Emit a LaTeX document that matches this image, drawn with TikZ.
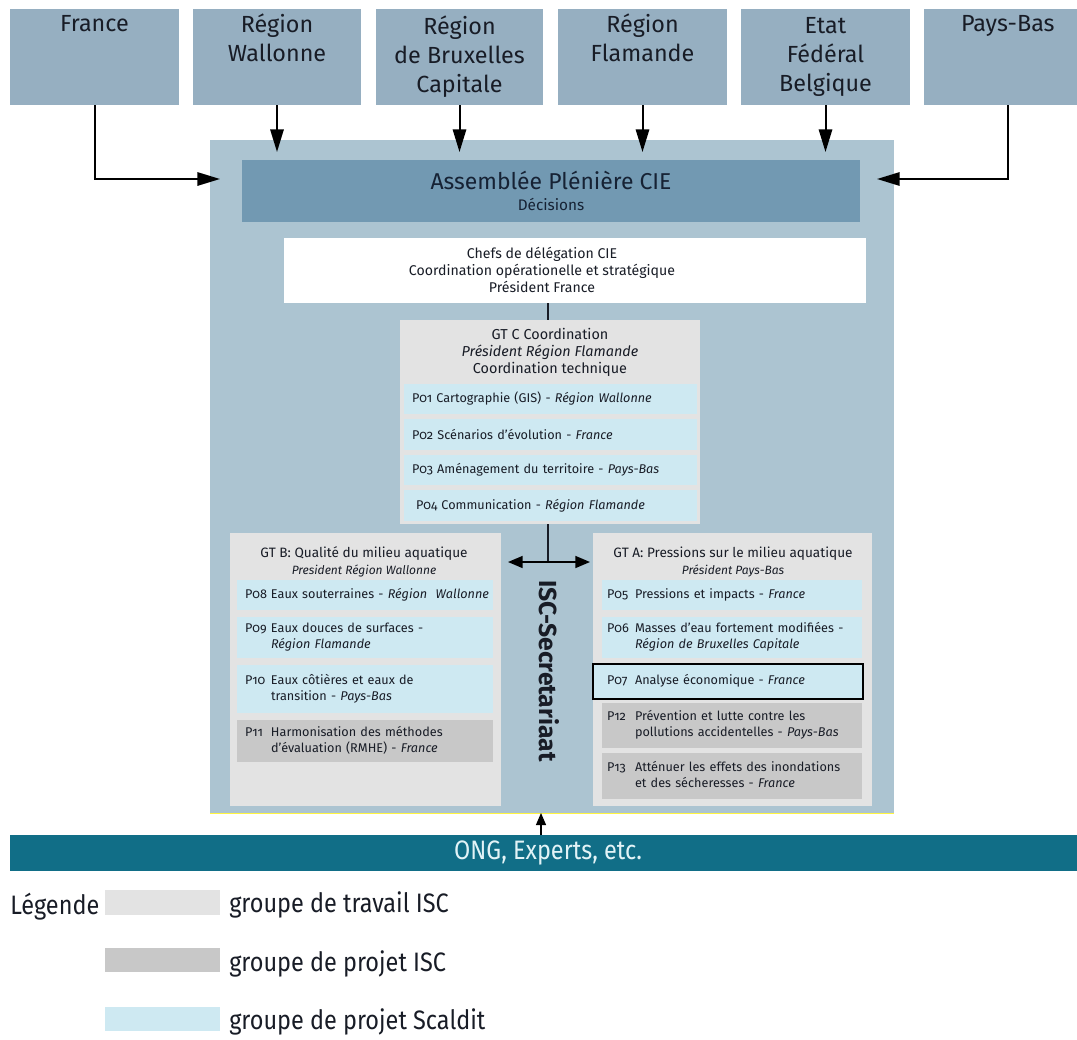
\documentclass[tikz,border=0pt]{standalone}
\usepackage{fontspec}
\setmainfont{Fira Sans}[Numbers=OldStyle]
\newfontfamily\condfont{Fira Sans}[FakeStretch=0.88]
\usetikzlibrary{arrows.meta}
\definecolor{topc}{RGB}{150,175,193}
\definecolor{bigc}{RGB}{172,196,209}
\definecolor{asc}{RGB}{114,153,178}
\definecolor{gtl}{RGB}{227,227,227}
\definecolor{gtd}{RGB}{200,200,200}
\definecolor{sblue}{RGB}{206,233,242}
\definecolor{ongc}{RGB}{17,110,135}
\definecolor{txt}{RGB}{24,28,38}
\definecolor{ongt}{RGB}{226,243,247}
\tikzset{
  pos/.code n args={4}{%
    \pgfmathsetmacro\bw{(#3-#1)*0.75}%
    \pgfmathsetmacro\bh{(#4-#2)*0.75}%
    \pgfmathsetmacro\bx{(#1+#3)/2}%
    \pgfmathsetmacro\by{(#2+#4)/2}%
    \edef\tmp{\noexpand\pgfkeysalso{minimum width=\bw pt,minimum height=\bh pt,at={(\bx,\by)}}}\tmp},
  lpos/.code n args={5}{%
    \pgfmathsetmacro\bw{(#3-#1)*0.75}%
    \pgfmathsetmacro\tw{(#3-#1)*0.75-2*#5*0.75}%
    \pgfmathsetmacro\ix{#5*0.75}%
    \pgfmathsetmacro\bh{(#4-#2)*0.75}%
    \pgfmathsetmacro\bx{(#1+#3)/2}%
    \pgfmathsetmacro\by{(#2+#4)/2}%
    \edef\tmp{\noexpand\pgfkeysalso{minimum width=\bw pt,minimum height=\bh pt,text width=\tw pt,inner xsep=\ix pt,align=left,at={(\bx,\by)}}}\tmp},
  rect/.style={inner sep=0pt, outer sep=0pt, draw=none, text=txt},
  topbox/.style={rect, fill=topc, align=center, font=\fontsize{17.5}{21.75}\selectfont},
  subitem/.style={rect, fill=sblue, font=\fontsize{9.5}{12}\selectfont},
  projitem/.style={rect, fill=gtd, font=\fontsize{9.5}{12}\selectfont},
  bigarrow/.style={line width=1.5pt, -{Triangle[length=17pt,width=10pt]}},
  midarrow/.style={line width=1.1pt, -{Triangle[length=11pt,width=9pt]}},
  smallarrow/.style={line width=0.8pt, -{Triangle[length=9pt,width=7.5pt]}},
  legtext/.style={anchor=west, inner sep=0pt, text=txt, font=\condfont\fontsize{20}{22}\selectfont},
}
\begin{document}
\begin{tikzpicture}[x=0.75pt,y=-0.75pt]
\useasboundingbox (0,0) rectangle (1077,1039);
% top boxes
\node[topbox, pos={10}{9}{179}{105}] (fr) {France\\\strut\\\strut};
\node[topbox, pos={193}{9}{361}{105}] (wal) {Région\\Wallonne\\\strut};
\node[topbox, pos={376}{9}{543}{105}] (bru) {Région\\de Bruxelles\\Capitale};
\node[topbox, pos={558}{9}{727}{105}] (fla) {Région\\Flamande\\\strut};
\node[topbox, pos={741}{9}{910}{105}] (etat) {Etat\\Fédéral\\Belgique};
\node[topbox, pos={924}{9}{1077}{105}] (pb) {\hspace*{11pt}Pays-Bas\\\strut\\\strut};
% big box
\node[rect, fill=bigc, pos={210}{140}{894}{813}] (big) {};
\draw[yellow!75!white, line width=0.75pt] (big.south west) -- (big.south east);
% assemblee
\node[rect, fill=asc, align=center, text={rgb,255:red,22;green,34;blue,52}, font=\fontsize{17.2}{16.5}\selectfont, pos={242}{160}{860}{222}] (ass) {Assemblée Plénière CIE\\[-1pt]{\fontsize{11.5}{12}\selectfont Décisions}};
% arrows from members
\coordinate (frin) at (220,179);
\coordinate (pbin) at (877,179);
\coordinate (tipy) at (0,152);
\draw[bigarrow] (fr.south) |- (frin);
\draw[bigarrow] (pb.south -| 1008,0) |- (pbin);
\draw[bigarrow] (wal.south) -- (wal.south |- tipy);
\draw[bigarrow] (bru.south) -- (bru.south |- tipy);
\draw[bigarrow] (fla.south) -- (fla.south |- tipy);
\draw[bigarrow] (etat.south) -- (etat.south |- tipy);
% chefs
\node[rect, fill=white, pos={284}{238}{866}{303}] (chefs) {};
\node[rect, align=center, font=\fontsize{10.6}{12.75}\selectfont] (chefst) at (542,270) {Chefs de délégation CIE\\Coordination opérationelle et stratégique\\Président France};
% GT C
\node[rect, fill=gtl, pos={400}{320}{700}{524}] (gtc) {};
\draw[line width=0.9pt, txt] (chefs.south -| 548,0) -- (gtc.north -| 548,0);
\node[rect, align=center, font=\fontsize{10.8}{12.75}\selectfont] (gtct) at (550,352) {GT C Coordination\\\textit{Président Région Flamande}\\Coordination technique};
\node[subitem, lpos={404}{384}{697}{414}{8}] (p01) {P01 Cartographie (GIS) - \textit{Région Wallonne}};
\node[subitem, lpos={404}{419}{697}{450}{8}] (p02) {P02 Scénarios d'évolution - \textit{France}};
\node[subitem, lpos={404}{455}{697}{485}{8}] (p03) {P03 Aménagement du territoire - \textit{Pays-Bas}};
\node[subitem, lpos={404}{490}{697}{521}{8}] (p04) {\hspace*{3pt}P04 Communication - \textit{Région Flamande}};
% GT B
\node[rect, fill=gtl, pos={230}{533}{501}{806}] (gtb) {};
\node[rect, align=center, font=\fontsize{10.2}{12.75}\selectfont] (gtbt) at (364,562) {GT B: Qualité du milieu aquatique\\{\fontsize{9}{12}\selectfont\textit{President Région Wallonne}}};
\node[subitem, lpos={237}{580}{493}{610}{8}] (p08) {\begin{tabular}{@{}p{19.5pt}@{}l@{}}P08 & Eaux souterraines - \textit{Région\ \ Wallonne}\end{tabular}};
\node[subitem, lpos={237}{617}{493}{658}{8}] (p09) {\begin{tabular}{@{}p{19.5pt}@{}l@{}}P09 & Eaux douces de surfaces -\\ & \textit{Région Flamande}\end{tabular}};
\node[subitem, lpos={237}{665}{493}{713}{8}] (p10) {\begin{tabular}{@{}p{19.5pt}@{}l@{}}P10 & Eaux côtières et eaux de\\ & transition - \textit{Pays-Bas}\end{tabular}};
\node[projitem, lpos={237}{720}{493}{762}{8}] (p11) {\begin{tabular}{@{}p{19.5pt}@{}l@{}}P11 & Harmonisation des méthodes\\ & d'évaluation (RMHE) - \textit{France}\end{tabular}};
% GT A
\node[rect, fill=gtl, pos={593}{533}{872}{806}] (gta) {};
\node[rect, align=center, font=\fontsize{10.2}{12.75}\selectfont] (gtat) at (733,562) {GT A: Pressions sur le milieu aquatique\\{\fontsize{9}{12}\selectfont\textit{Président Pays-Bas}}};
\node[subitem, lpos={602}{580}{862}{610}{5}] (p05) {\begin{tabular}{@{}p{21pt}@{}l@{}}P05 & Pressions et impacts - \textit{France}\end{tabular}};
\node[subitem, lpos={602}{617}{862}{658}{5}] (p06) {\begin{tabular}{@{}p{21pt}@{}l@{}}P06 & Masses d'eau fortement modifiées -\\ & \textit{Région de Bruxelles Capitale}\end{tabular}};
\node[subitem, draw=black, line width=1.5pt, lpos={593}{664}{863}{699}{14}] (p07) {\begin{tabular}{@{}p{21pt}@{}l@{}}P07 & Analyse économique - \textit{France}\end{tabular}};
\node[projitem, lpos={602}{703}{862}{748}{5}] (p12) {\begin{tabular}{@{}p{21pt}@{}l@{}}P12 & Prévention et lutte contre les\\ & pollutions accidentelles - \textit{Pays-Bas}\end{tabular}};
\node[projitem, lpos={602}{753}{862}{799}{5}] (p13) {\begin{tabular}{@{}p{21pt}@{}l@{}}P13 & Atténuer les effets des inondations\\ & et des sécheresses - \textit{France}\end{tabular}};
% secretariat
\coordinate (isc) at (548,562);
\coordinate (iscl) at (508,562);
\coordinate (iscr) at (590,562);
\draw[line width=1pt, txt] (gtc.south -| isc) -- (isc);
\draw[midarrow] (isc) -- (iscl);
\draw[midarrow] (isc) -- (iscr);
\node[rect, rotate=-90, font=\bfseries\fontsize{18.5}{20}\selectfont] (sec) at (549,671) {ISC-Secretariaat};
% ONG
\node[rect, fill=ongc, text=ongt, font=\condfont\fontsize{20}{22}\selectfont, pos={10}{835}{1077}{871}] (ong) {\hspace*{7pt}ONG, Experts, etc.};
\coordinate (ongtip) at (541,813);
\draw[smallarrow] (ongtip |- ong.north) -- (ongtip);
% legend
\node[legtext] (leg) at (10,907) {Légende};
\node[rect, fill=gtl, pos={105}{890}{220}{915}] (lg1) {};
\node[rect, fill=gtd, pos={105}{948}{220}{972}] (lg2) {};
\node[rect, fill=sblue, pos={105}{1007}{220}{1031}] (lg3) {};
\node[legtext] (lt1) at (229,905) {groupe de travail ISC};
\node[legtext] (lt2) at (229,964) {groupe de projet ISC};
\node[legtext] (lt3) at (229,1022) {groupe de projet Scaldit};
\end{tikzpicture}
\end{document}
